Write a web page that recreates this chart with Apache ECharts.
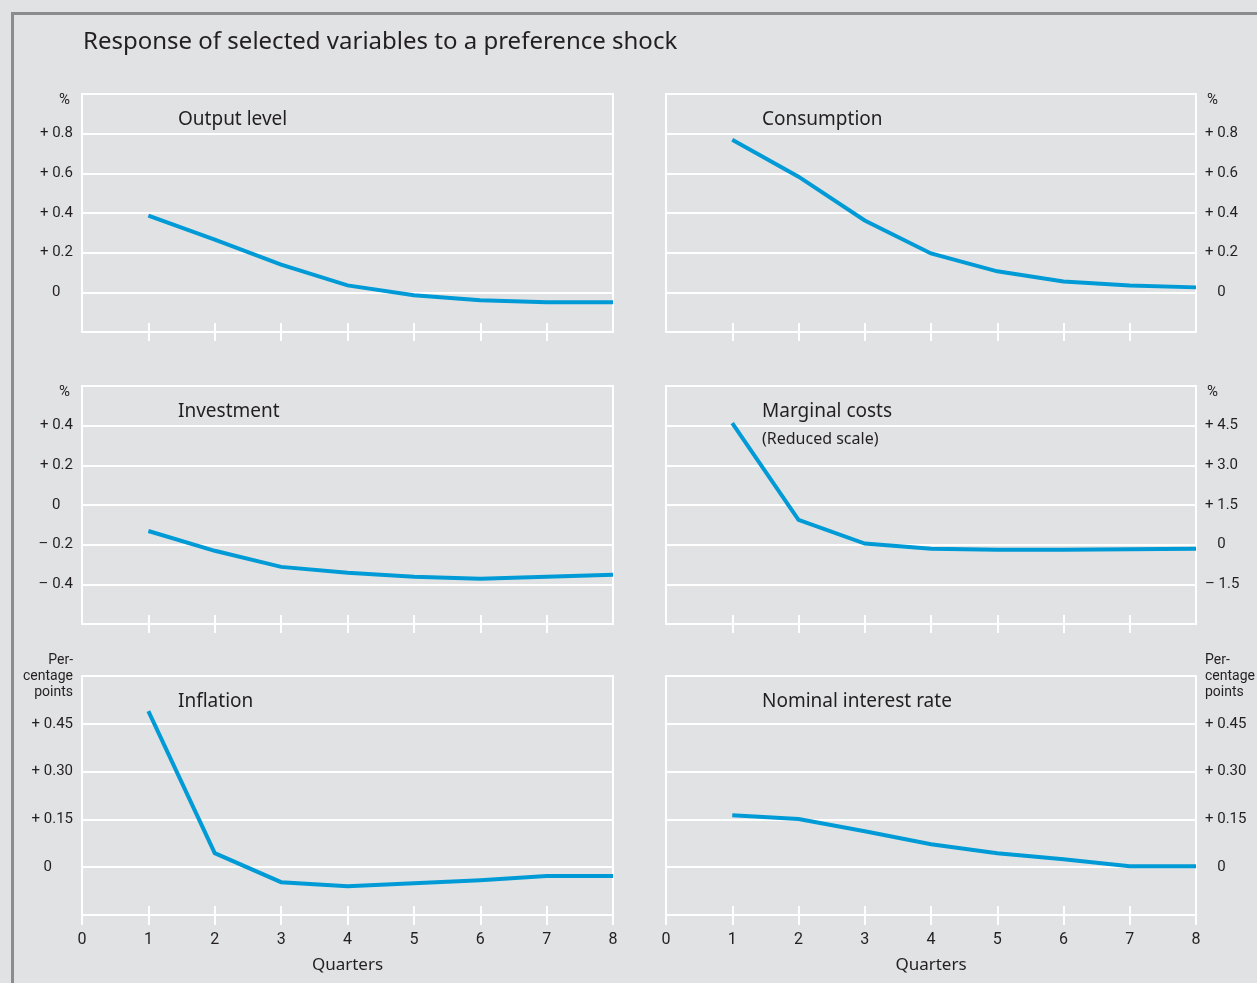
<!DOCTYPE html>
<html><head><meta charset="utf-8">
<script src="https://cdn.jsdelivr.net/npm/echarts@6/dist/echarts.min.js"></script>
<style>html,body{margin:0;padding:0;background:#e1e2e3}#c{width:1257px;height:983px}</style>
</head><body><div id="c"></div>
<script>
// ---- data ----
const quarters = [1, 2, 3, 4, 5, 6, 7, 8];
const innerTicks = [1, 2, 3, 4, 5, 6, 7];
const xTickLabels = [0, 1, 2, 3, 4, 5, 6, 7, 8];
const outputLevel = [0.387, 0.266, 0.14, 0.035, -0.015, -0.04, -0.05, -0.05];
const consumption = [0.769, 0.583, 0.362, 0.196, 0.106, 0.055, 0.035, 0.025];
const investment = [-0.131, -0.231, -0.312, -0.342, -0.362, -0.372, -0.362, -0.352];
const marginalCosts = [4.6, 0.94, 0.04, -0.15, -0.19, -0.19, -0.17, -0.15];
const inflation = [0.49, 0.044, -0.047, -0.06, -0.05, -0.041, -0.028, -0.028];
const nominalRate = [0.163, 0.151, 0.113, 0.072, 0.044, 0.025, 0.003, 0.003];
const titles = ['Output level', 'Consumption', 'Investment', 'Marginal costs', 'Inflation', 'Nominal interest rate'];
const unitPct = '%';
const unitPP = 'Per-\ncentage\npoints';

// ---- layout ----
const colLeft = [82, 666], colWidth = [531, 530];
const rowTop = [94, 386, 676], rowHeight = [238, 238, 239];
const panels = [
  {data: outputLevel, title: titles[0], col: 0, row: 0, min: -0.2, max: 1.0, interval: 0.2, dec: 1, unit: unitPct},
  {data: consumption, title: titles[1], col: 1, row: 0, min: -0.2, max: 1.0, interval: 0.2, dec: 1, unit: unitPct},
  {data: investment, title: titles[2], col: 0, row: 1, min: -0.6, max: 0.6, interval: 0.2, dec: 1, unit: unitPct},
  {data: marginalCosts, title: titles[3], col: 1, row: 1, min: -3.0, max: 6.0, interval: 1.5, dec: 1, unit: unitPct, sub: '(Reduced scale)'},
  {data: inflation, title: titles[4], col: 0, row: 2, min: -0.15, max: 0.60, interval: 0.15, dec: 2, unit: unitPP},
  {data: nominalRate, title: titles[5], col: 1, row: 2, min: -0.15, max: 0.60, interval: 0.15, dec: 2, unit: unitPP}
];

const textColor = '#231f20';
const lineColor = '#009bd6';
const tickFont = "'Liberation Sans Narrow','Roboto','Noto Sans',sans-serif";
const textFont = "'Noto Sans','Open Sans',sans-serif";

function fmt(p) {
  return function (v) {
    if (Math.abs(v - p.max) < 1e-6) {
      return p.unit === unitPct ? '{u|%}' : p.unit.split('\n').map(function (s) { return '{p|' + s + '}'; }).join('\n');
    }
    if (Math.abs(v - p.min) < 1e-6) return '';
    if (Math.abs(v) < 1e-9) {
      return p.col === 0 ? '0\u2008' + '\u2007'.repeat(p.dec) : '\u2007 0';
    }
    return (v > 0 ? '+ ' : '\u2013 ') + Math.abs(v).toFixed(p.dec);
  };
}

const grid = [], xAxis = [], yAxis = [], series = [], title = [];
title.push({text: 'Response of selected variables to a preference shock', left: 78, top: 25,
  textStyle: {fontFamily: textFont, fontSize: 24, fontWeight: 'normal', color: textColor}});

panels.forEach(function (p, i) {
  const bottomRow = p.row === 2;
  grid.push({left: colLeft[p.col], top: rowTop[p.row], width: colWidth[p.col], height: rowHeight[p.row],
    outerBoundsMode: 'none', containLabel: false,
    show: true, backgroundColor: 'transparent', borderColor: '#ffffff', borderWidth: 2});
  // main axis: line + labels
  xAxis.push({type: 'value', gridIndex: i, min: 0, max: 8, interval: 1, position: 'bottom',
    axisLine: {show: true, onZero: false, lineStyle: {color: '#ffffff', width: 2}},
    axisTick: {show: bottomRow, inside: false, length: 10, lineStyle: {color: '#ffffff', width: 2}},
    splitLine: {show: false},
    axisLabel: {show: bottomRow, margin: 17, fontSize: 16, color: textColor, fontFamily: tickFont},
    name: bottomRow ? 'Quarters' : '', nameLocation: 'middle', nameGap: 42,
    nameTextStyle: {fontSize: 17, color: textColor, fontFamily: textFont}});
  // crossing ticks: axis shifted up by 9px, ticks 18px long pointing down
  xAxis.push({type: 'value', gridIndex: i, min: 0, max: 8, interval: 1, position: 'bottom', offset: -9,
    axisLine: {show: false, onZero: false},
    axisTick: {show: true, inside: false, length: 18, lineStyle: {color: '#ffffff', width: 2}, customValues: innerTicks},
    splitLine: {show: false}, axisLabel: {show: false}});
  yAxis.push({type: 'value', gridIndex: i, min: p.min, max: p.max, interval: p.interval,
    position: p.col === 0 ? 'left' : 'right',
    axisLine: {show: false}, axisTick: {show: false},
    splitLine: {show: true, lineStyle: {color: '#ffffff', width: 2}},
    axisLabel: {formatter: fmt(p), margin: 9, fontSize: 15, lineHeight: 16, color: textColor, fontFamily: tickFont,
      align: p.col === 0 ? 'right' : 'left',
      rich: {
        u: {fontSize: 15, fontFamily: tickFont, color: textColor, padding: [13, p.col === 0 ? 3 : 0, 0, p.col === 0 ? 0 : 2]},
        p: {fontSize: 14, lineHeight: 16, fontFamily: tickFont, color: textColor}
      }}});
  series.push({type: 'line', xAxisIndex: i * 2, yAxisIndex: i, symbol: 'none', silent: true,
    data: quarters.map(function (q, k) { return [q, p.data[k]]; }),
    lineStyle: {color: lineColor, width: 4, join: 'miter'}});
  title.push({text: p.title, left: colLeft[p.col] + 91, top: rowTop[p.row] + 11,
    textStyle: {fontFamily: textFont, fontSize: 19, fontWeight: 'normal', color: textColor}});
  if (p.sub) {
    title.push({text: p.sub, left: colLeft[p.col] + 91, top: rowTop[p.row] + 40,
      textStyle: {fontFamily: textFont, fontSize: 16, fontWeight: 'normal', color: textColor}});
  }
});

const chart = echarts.init(document.getElementById('c'), null, {renderer: 'canvas'});
chart.setOption({
  backgroundColor: '#e1e2e3',
  animation: false,
  title: title, grid: grid, xAxis: xAxis, yAxis: yAxis, series: series,
  graphic: [{type: 'rect', shape: {x: 12.5, y: 13.5, width: 1300, height: 1100},
    style: {fill: 'none', stroke: '#8c8c8c', lineWidth: 3}, silent: true, z: 100}]
});
</script></body></html>
